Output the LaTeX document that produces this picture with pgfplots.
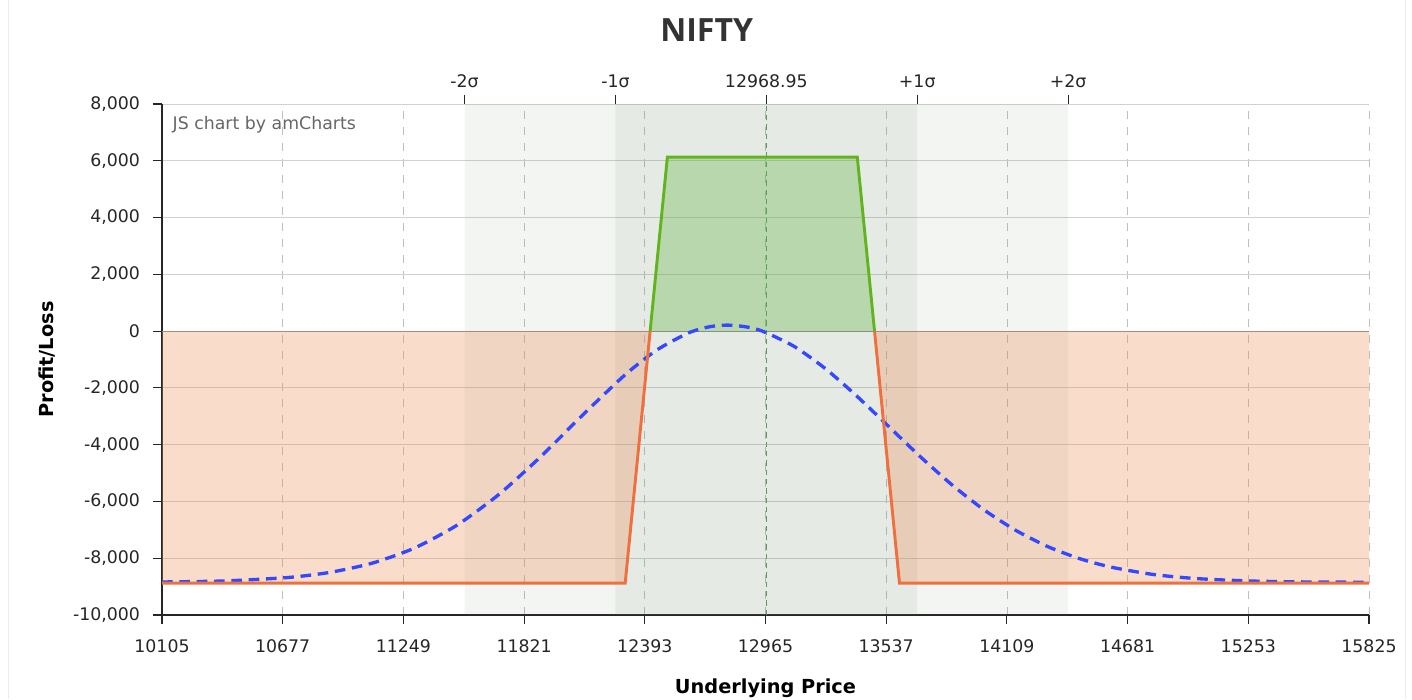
\documentclass[border=0pt]{standalone}
\usepackage{pgfplots}
\pgfplotsset{compat=1.18}
\usepackage{fontspec}
\setmainfont{DejaVu Sans}
\newfontfamily\titlefont{Open Sans}
\definecolor{bandc}{RGB}{100,130,100}
\definecolor{plgreen}{RGB}{98,180,30}
\definecolor{plorange}{RGB}{238,112,62}
\definecolor{curveblue}{RGB}{52,72,255}
\definecolor{fillorange}{RGB}{235,140,80}
\definecolor{fillgreen}{RGB}{100,180,70}
\definecolor{centreline}{RGB}{95,150,95}
\begin{document}
\begin{tikzpicture}
\path[use as bounding box] (0pt,0pt) rectangle (1059pt,524.25pt);
\draw[black!7] (6pt,0pt) -- (6pt,524.25pt);
\draw[black!7] (1054pt,0pt) -- (1054pt,524.25pt);
\begin{axis}[
  at={(121.5pt,63pt)}, anchor=south west, scale only axis,
  width=905.25pt, height=383.25pt,
  xmin=10105, xmax=15825, ymin=-10000, ymax=8000,
  scaled ticks=false,
  axis x line*=bottom, axis y line*=left,
  axis line style={-, black!85, line width=0.9pt},
  xtick={10105,10677,11249,11821,12393,12965,13537,14109,14681,15253,15825},
  xticklabels={10105,10677,11249,11821,12393,12965,13537,14109,14681,15253,15825},
  ytick={-10000,-8000,-6000,-4000,-2000,0,2000,4000,6000,8000},
  /pgf/number format/1000 sep={,},
  /pgf/number format/assume math mode=true,
  tick align=outside, major tick length=7pt,
  tick style={black!85, line width=0.8pt},
  ymajorgrids, xmajorgrids,
  y grid style={black!18, line width=0.7pt},
  x grid style={black!25, dash pattern=on 6pt off 6pt, line width=0.6pt},
  ticklabel style={font=\fontsize{13}{15}\selectfont, text=black!85},
  yticklabel style={xshift=-6pt},
  xticklabel style={yshift=-8pt},
  xlabel={Underlying Price}, ylabel={Profit/Loss},
  label style={font=\bfseries\fontsize{14.5}{17}\selectfont},
  xlabel style={at={(axis description cs:0.5,-0.1429)}, anchor=center},
  ylabel style={at={(axis description cs:-0.0953,0.5)}, anchor=center},
]
% sigma bands
\addplot[draw=none, fill=bandc, fill opacity=0.08] coordinates {(11538.95,-10000) (11538.95,8000) (12253.95,8000) (12253.95,-10000) (11538.95,-10000)};
\addplot[draw=none, fill=bandc, fill opacity=0.08] coordinates {(13683.95,-10000) (13683.95,8000) (14398.95,8000) (14398.95,-10000) (13683.95,-10000)};
\addplot[draw=none, fill=bandc, fill opacity=0.17] coordinates {(12253.95,-10000) (12253.95,8000) (13683.95,8000) (13683.95,-10000) (12253.95,-10000)};
% zero line and centre line
\addplot[black!45, line width=0.8pt] coordinates {(10105,0) (15825,0)};
\addplot[centreline, dash pattern=on 4pt off 3pt, line width=0.6pt] coordinates {(12968.95,-10000) (12968.95,8000)};
% fills
\addplot[draw=none, fill=fillgreen, fill opacity=0.35] coordinates {(12418.3,0) (12500,6130) (13400,6130) (13481.7,0) (12418.3,0)};
\addplot[draw=none, fill=fillorange, fill opacity=0.3] coordinates {(10105,0) (10105,-8880) (12300,-8880) (12418.3,0) (10105,0)};
\addplot[draw=none, fill=fillorange, fill opacity=0.3] coordinates {(13481.7,0) (13600,-8880) (15825,-8880) (15825,0) (13481.7,0)};
% probability curve
\addplot[curveblue, line width=2.5pt, dash pattern=on 8pt off 5pt, smooth, tension=0.4] coordinates {
(10105,-8837) (10400,-8801) (10700,-8681) (10900,-8500) (11100,-8177) (11300,-7647)
(11500,-6850) (11700,-5763) (11900,-4421) (12100,-2945) (12300,-1536) (12450,-666)
(12600,-63) (12700,154) (12783,211) (12870,153) (12950,0) (13100,-535)
(13250,-1329) (13400,-2305) (13550,-3369) (13700,-4433) (13850,-5424) (14000,-6294)
(14150,-7014) (14300,-7582) (14450,-8006) (14600,-8310) (14800,-8570) (15000,-8714)
(15250,-8800) (15500,-8834) (15825,-8847)};
% P/L lines
\addplot[plorange, line width=2.2pt] coordinates {(10105,-8880) (12300,-8880) (12418.3,0)};
\addplot[plorange, line width=2.2pt] coordinates {(13481.7,0) (13600,-8880) (15825,-8880)};
\addplot[plgreen, line width=2.2pt] coordinates {(12418.3,0) (12500,6130) (13400,6130) (13481.7,0)};
\end{axis}
\begin{axis}[
  at={(121.5pt,63pt)}, anchor=south west, scale only axis,
  width=905.25pt, height=383.25pt,
  xmin=10105, xmax=15825, ymin=-10000, ymax=8000,
  scaled ticks=false,
  axis x line*=top, hide y axis,
  x axis line style={draw=none},
  xtick={11538.95,12253.95,12968.95,13683.95,14398.95},
  xticklabels={-2σ,-1σ,12968.95,+1σ,+2σ},
  tick align=outside, major tick length=7pt,
  tick style={black!85, line width=0.8pt},
  ticklabel style={font=\fontsize{13}{15}\selectfont, text=black!85},
  xticklabel style={yshift=1.5pt},
]
\addplot[draw=none] coordinates {(10105,0) (15825,0)};
\end{axis}
\node[anchor=west, text=black!60, font=\fontsize{13}{15}\selectfont] at (126pt,430.5pt) {JS chart by amCharts};
\node[font=\titlefont\bfseries\fontsize{24}{28}\selectfont, text=black!80] at (530pt,501.75pt) {NIFTY};
\end{tikzpicture}
\end{document}
